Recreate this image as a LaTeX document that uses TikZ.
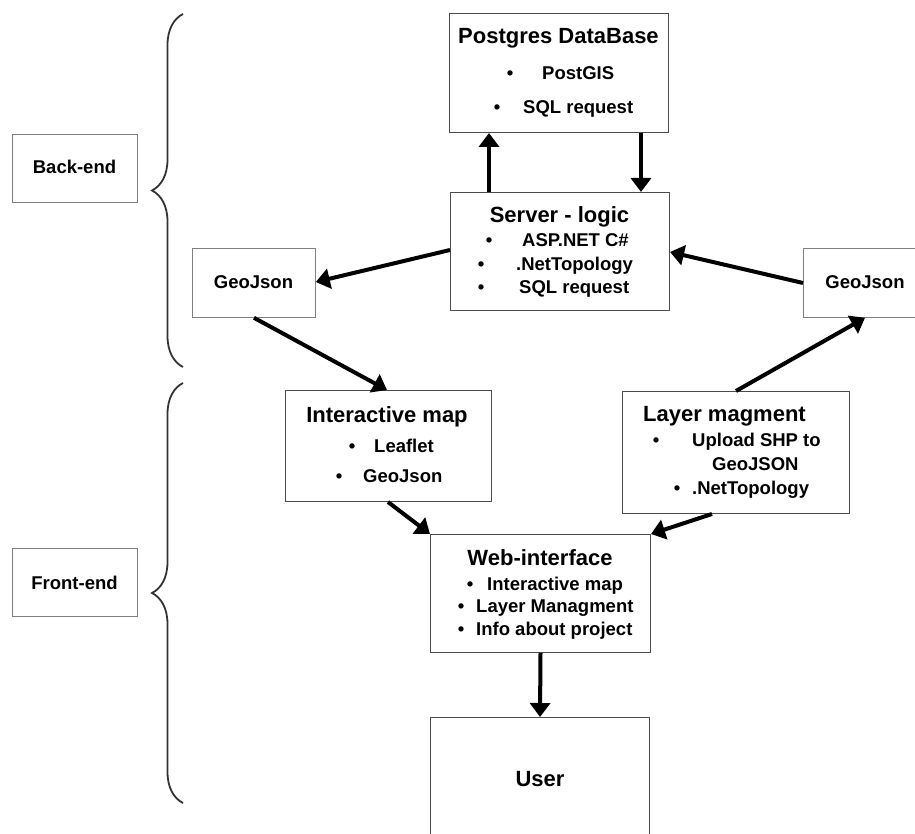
\documentclass[tikz,border=0pt]{standalone}
\usepackage{fontspec}
\setmainfont{Liberation Sans}
\usetikzlibrary{arrows.meta,decorations.pathreplacing}
\tikzset{
  box/.style={draw=black!70, line width=1pt, rectangle, inner sep=0pt, anchor=north west},
  lightbox/.style={draw=black!50, line width=0.8pt, rectangle, inner sep=0pt, anchor=north west},
  ttl/.style={font=\bfseries\fontsize{22}{24}\selectfont, anchor=base, inner sep=0pt},
  itm/.style={font=\bfseries\fontsize{18.5}{20}\selectfont, anchor=base west, inner sep=0pt},
  bul/.style={font=\bfseries\fontsize{18.5}{20}\selectfont, anchor=base, inner sep=0pt},
  arr/.style={line width=4pt, -{Triangle[width=20pt,length=14pt]}, black},
  bracestyle/.style={draw=black!80, line width=1.8pt, decorate, decoration={brace, amplitude=31pt, aspect=0.5}}
}
\begin{document}
\begin{tikzpicture}[x=1pt,y=-1pt]
\clip (0,0) rectangle (915,834);
\fill[white] (0,0) rectangle (915,834);

% side labels
\node[lightbox, minimum width=125pt, minimum height=68pt] (back) at (12,134) {};
\node[itm, anchor=base] (backt) at (74.5,174) {Back-end};
\node[lightbox, minimum width=125pt, minimum height=68pt] (front) at (12,548) {};
\node[itm, anchor=base] (frontt) at (74.5,589) {Front-end};

% braces
\coordinate (b1s) at (183,367);
\coordinate (b1e) at (183,14);
\draw[bracestyle] (b1s) -- (b1e);
\coordinate (b2s) at (183,803);
\coordinate (b2e) at (183,383);
\draw[bracestyle] (b2s) -- (b2e);

% Postgres
\node[box, minimum width=219pt, minimum height=119pt] (pg) at (449,13) {};
\node[ttl] (pgt) at (558.5,44) {Postgres DataBase};
\node[bul] at (510,80) {\textbullet};
\node[itm] at (542,80) {PostGIS};
\node[bul] at (497,114) {\textbullet};
\node[itm] at (523,114) {SQL request};

% Server
\node[box, minimum width=219pt, minimum height=118pt] (srv) at (450,192) {};
\node[ttl] (srvt) at (559.5,223) {Server - logic};
\node[bul] at (489,247) {\textbullet};
\node[itm] at (522,247) {ASP.NET C\#};
\node[bul] at (481,271) {\textbullet};
\node[itm] at (516,271) {.NetTopology};
\node[bul] at (481,293) {\textbullet};
\node[itm] at (519,293) {SQL request};

% GeoJson left / right
\node[lightbox, minimum width=123pt, minimum height=69pt] (gjl) at (192,248) {};
\node[itm, anchor=base] at (253.5,288) {GeoJson};
\node[lightbox, minimum width=125pt, minimum height=69pt] (gjr) at (803,248) {};
\node[itm, anchor=base] at (865,288) {GeoJson};

% Interactive map
\node[box, minimum width=206pt, minimum height=111pt] (imap) at (285,390) {};
\node[ttl] at (387,422) {Interactive map};
\node[bul] at (352,452) {\textbullet};
\node[itm] at (374,452) {Leaflet};
\node[bul] at (339,482) {\textbullet};
\node[itm] at (363,482) {GeoJson};

% Layer magment
\node[box, minimum width=227pt, minimum height=122pt] (lay) at (622,391) {};
\node[ttl] at (724.5,421) {Layer magment};
\node[bul] at (656,446) {\textbullet};
\node[itm] at (692,446) {Upload SHP to};
\node[itm] at (712,470) {GeoJSON};
\node[bul] at (677,494) {\textbullet};
\node[itm] at (692,494) {.NetTopology};

% Web-interface
\node[box, minimum width=220pt, minimum height=118pt] (web) at (430,534) {};
\node[ttl] at (540,565) {Web-interface};
\node[bul] at (470,590) {\textbullet};
\node[itm] at (487,590) {Interactive map};
\node[bul] at (461,612) {\textbullet};
\node[itm] at (476,612) {Layer Managment};
\node[bul] at (461,635) {\textbullet};
\node[itm] at (476,635) {Info about project};

% User
\node[box, minimum width=219pt, minimum height=140pt] (user) at (430,717) {};
\node[ttl] at (540,786) {User};

% arrows
\draw[arr] ([xshift=39pt]srv.north west) -- ([xshift=40pt]pg.south west);
\draw[arr] ([xshift=192pt]pg.south west) -- ([xshift=191pt]srv.north west);
\draw[arr] ([yshift=-58pt]srv.north west) -- ([yshift=-34pt]gjl.north east);
\draw[arr] ([yshift=-35pt]gjr.north west) -- ([yshift=-60pt]srv.north east);
\draw[arr] ([xshift=62pt]gjl.south west) -- ([xshift=102pt]imap.north west);
\draw[arr] ([xshift=114pt]lay.north west) -- ([xshift=62pt]gjr.south west);
\draw[arr] ([xshift=103pt]imap.south west) -- (web.north west);
\draw[arr] ([xshift=90pt]lay.south west) -- (web.north east);
\draw[arr] (web.south) -- (user.north);
\end{tikzpicture}
\end{document}
